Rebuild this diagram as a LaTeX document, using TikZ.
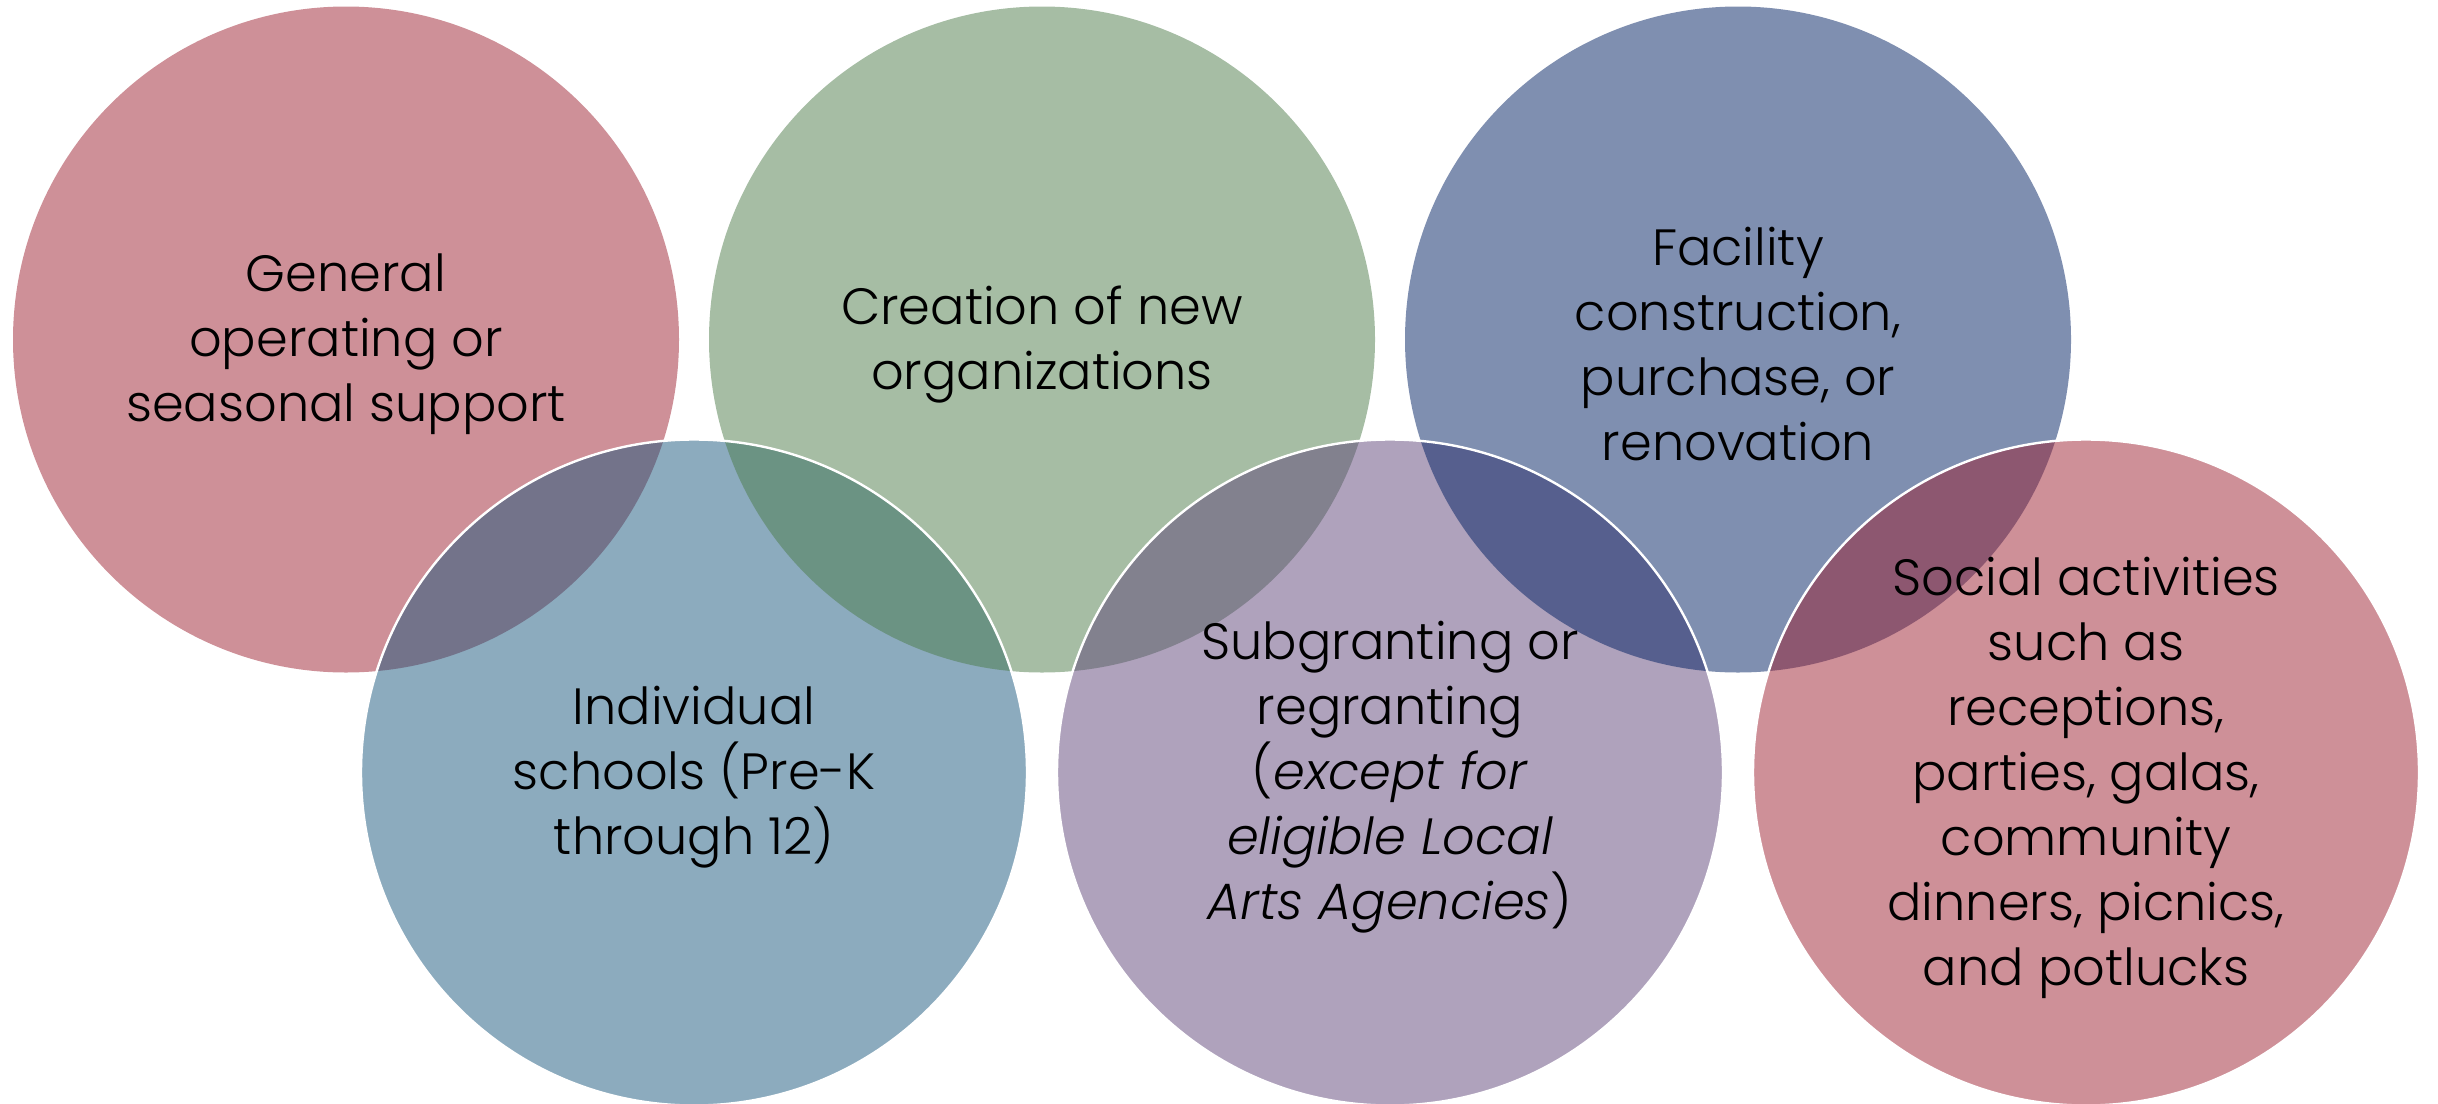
\documentclass[tikz,border=0pt]{standalone}
\usepackage{fontspec}
\setmainfont{Poppins}[UprightFont={* Light}, ItalicFont={* Light Italic}]
\definecolor{cpink}{RGB}{157,33,49}
\definecolor{clblue}{RGB}{25,87,125}
\definecolor{cgreen}{RGB}{77,123,73}
\definecolor{clav}{RGB}{95,69,121}
\definecolor{cblue}{RGB}{0,31,97}
\begin{document}
\begin{tikzpicture}[x=1pt,y=-1pt,
  disc/.style={circle, minimum size=666pt, inner sep=0pt, outer sep=0pt, fill=#1, fill opacity=0.5},
  rim/.style={circle, minimum size=666pt, inner sep=0pt, outer sep=0pt, draw=white, line width=2.4pt},
  label/.style={align=center, inner sep=0pt, text=black, font=\fontsize{51}{65}\selectfont}]
\useasboundingbox (0,0) rectangle (2438,1103);
\clip (0,0) rectangle (2438,1103);
% fills, in stacking order
\node[disc=cpink]  (c1) at (346,339.5) {};
\node[disc=clblue] (c4) at (694,772.5) {};
\node[disc=cgreen] (c2) at (1042,339.5) {};
\node[disc=clav]   (c5) at (1390,772.5) {};
\node[disc=cblue]  (c3) at (1738,339.5) {};
\node[disc=cpink]  (c6) at (2086,772.5) {};
% white outlines of the lower circles
\node[rim] (r4) at (c4) {};
\node[rim] (r5) at (c5) {};
\node[rim] (r6) at (c6) {};
% texts
\node[label, yshift=-5pt] (t1) at (c1) {General\\operating or\\seasonal support};
\node[label, yshift=-5pt] (t2) at (c2) {Creation of new\\organizations};
\node[label, yshift=-5pt] (t3) at (c3) {Facility\\construction,\\purchase, or\\renovation};
\node[label, yshift=-5pt] (t4) at (c4) {Individual\\schools (Pre-K\\through 12)};
\node[label, yshift=-5pt] (t5) at (c5) {Subgranting or\\regranting\\(\textit{except for}\\\textit{eligible Local}\\\textit{Arts Agencies})};
\node[label, yshift=-5pt] (t6) at (c6) {Social activities\\such as\\receptions,\\parties, galas,\\community\\dinners, picnics,\\and potlucks};
\end{tikzpicture}
\end{document}
